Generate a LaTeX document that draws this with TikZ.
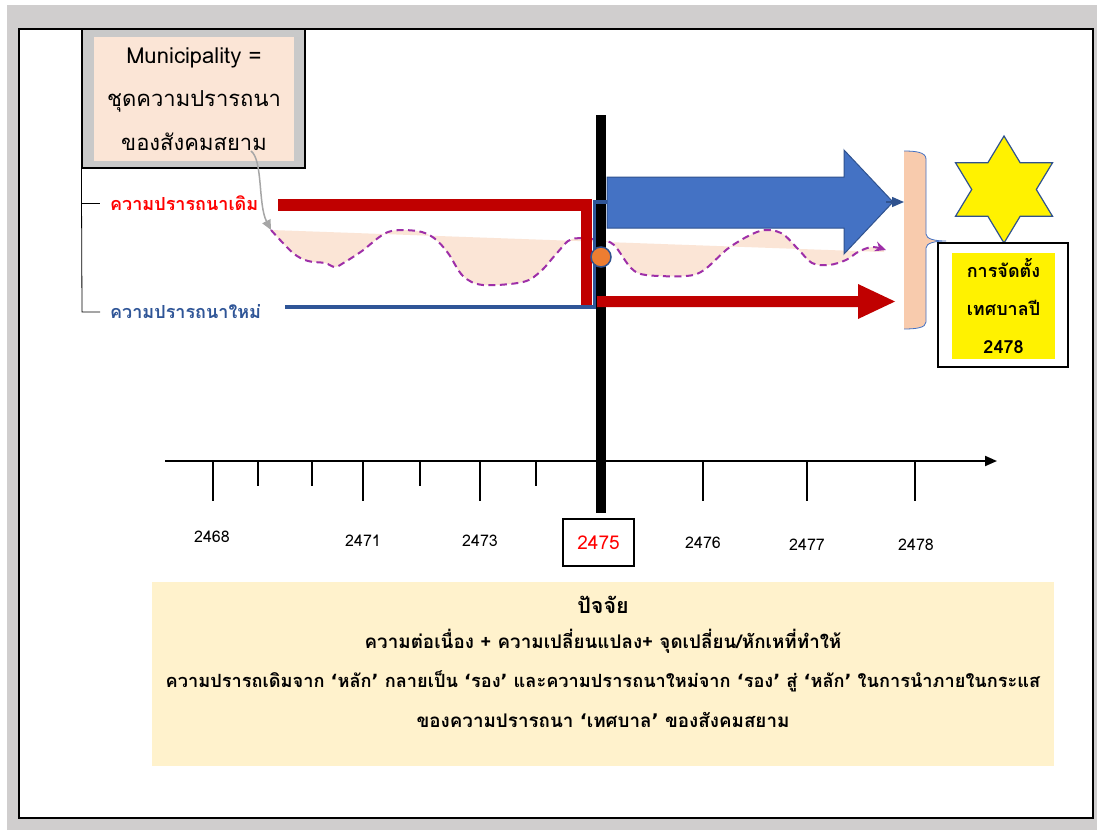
\documentclass[tikz,border=0pt]{standalone}
\usepackage{fontspec}
\setmainfont[Script=Thai]{Loma}
\newfontfamily\qf{DejaVu Sans}
\newcommand{\thlq}{{\qf\bfseries ‘}}
\newcommand{\thrq}{{\qf\bfseries ’}}
\usetikzlibrary{arrows.meta}
\definecolor{bgray}{HTML}{D0CECE}
\definecolor{boxgray}{HTML}{C9C9C9}
\definecolor{pinkf}{HTML}{FBE5D6}
\definecolor{darkred}{HTML}{C00000}
\definecolor{navy}{HTML}{2F5597}
\definecolor{arrowblue}{HTML}{4472C4}
\definecolor{edgeblue}{HTML}{2F528F}
\definecolor{orangec}{HTML}{ED7D31}
\definecolor{purp}{HTML}{9E2FA8}
\definecolor{bracketf}{HTML}{F8CBAD}
\definecolor{creamf}{HTML}{FFF2CC}
\definecolor{arrowgray}{HTML}{A6A6A6}
\tikzset{
  lbl/.style={inner sep=0pt, font=\bfseries\fontsize{18}{21}\selectfont},
  yearlbl/.style={inner sep=0pt, font=\fontsize{16}{19}\selectfont},
  longtick/.style={line width=1.5pt},
  facttxt/.style={inner sep=0pt, font=\bfseries\fontsize{18.8}{22}\selectfont},
}
\begin{document}
\begin{tikzpicture}[x=1pt,y=-1pt]
\useasboundingbox (0,0) rectangle (1097,830);
\fill[white] (0,0) rectangle (1097,830);
\fill[bgray] (7,5) rectangle (1097,830);
\draw[fill=white, line width=2pt] (19,29) rectangle (1093,818);

% municipality box
\node[draw=black, line width=1.2pt, fill=boxgray, minimum width=223pt, minimum height=139pt, inner sep=0pt] (muniout) at (193.5,98.5) {};
\node[fill=pinkf, minimum width=200pt, minimum height=124pt, inner sep=0pt, align=center, font=\fontsize{22}{43.5}\selectfont] (muni) at (194,99) {Municipality =\\ชุดความปรารถนา\\ของสังคมสยาม};

% left bracket with labels
\coordinate (tkold) at (100,203);
\coordinate (tknew) at (100,312);
\draw[line width=0.8pt] (muniout.south west) -- (82,312) -- (tknew);
\draw[line width=0.8pt] (82,203) -- (tkold);
\node[lbl, anchor=west, text=red] (oldlbl) at (110,203) {ความปรารถนาเดิม};
\node[lbl, anchor=west, text=navy] (newlbl) at (110,312) {ความปรารถนาใหม่};

% pink wave region and dashed curve
\fill[pinkf] plot[smooth, tension=0.55] coordinates {(271,230) (293,253) (308,261) (325,263) (335,267) (345,262) (362,251) (388,232) (417,231) (434,238) (448,253) (463,276) (483,285) (523,282) (541,271) (557,253) (572,239) (600,240) (614,245) (631,268) (646,275) (686,276) (704,270) (730,247) (760,231) (781,233) (798,249) (812,263) (829,265) (846,260) (858,252) (872,247) (884,250)} -- (884,252) -- (271,230) -- cycle;
\coordinate (wavestart) at (271,230);
\draw[purp, line width=2pt, dash pattern=on 7pt off 4.5pt, -{Stealth[length=11pt,width=10pt]}] plot[smooth, tension=0.55] coordinates {(271,230) (293,253) (308,261) (325,263) (335,267) (345,262) (362,251) (388,232) (417,231) (434,238) (448,253) (463,276) (483,285) (523,282) (541,271) (557,253) (572,239) (600,240) (614,245) (631,268) (646,275) (686,276) (704,270) (730,247) (760,231) (781,233) (798,249) (812,263) (829,265) (846,260) (858,252) (872,247) (886,250)};

% gray curved arrow from municipality box
\coordinate (munitail) at (251,151);
\draw[arrowgray, line width=1.5pt, -{Triangle[length=10pt,width=9pt]}] (munitail) .. controls (263,160) and (258,205) .. (wavestart);

% old (red) line
\coordinate (oldstart) at (278,205);
\coordinate (oldcorner) at (586.5,205);
\draw[darkred, line width=11.5pt] (oldstart) -- (oldcorner) -- (586.5,306);

% timeline black bar
\coordinate (bartop) at (601,115);
\coordinate (barbot) at (601,513);
\draw[line width=10pt] (bartop) -- (barbot);

% new (blue) line
\coordinate (newstart) at (285,307);
\draw[navy, line width=3.5pt] (newstart) -- (594.5,307) -- (594.5,202) -- (608,202);

% red arrow
\fill[darkred] (597,296) -- (858,296) -- (858,284) -- (895,301.5) -- (858,319) -- (858,307) -- (597,307) -- cycle;

% big blue arrow
\draw[fill=arrowblue, draw=edgeblue, line width=1pt] (607,177) -- (844,177) -- (844,150) -- (893,202) -- (844,254) -- (844,228) -- (607,228) -- cycle;

% orange circle
\node[circle, fill=orangec, draw=edgeblue, line width=1.5pt, minimum size=20pt, inner sep=0pt] (pivot) at (601,257) {};

% bracket
\fill[bracketf] (904,151) .. controls (915,151) and (926,152) .. (926,159) -- (926,234) .. controls (926,239) and (935,241) .. (946,241) .. controls (935,241) and (926,243) .. (926,248) -- (926,322) .. controls (926,328) and (915,329) .. (904,329) -- cycle;
\draw[arrowblue, line width=0.8pt] (904,151) .. controls (915,151) and (926,152) .. (926,159) -- (926,234) .. controls (926,239) and (935,241) .. (946,241) .. controls (935,241) and (926,243) .. (926,248) -- (926,322) .. controls (926,328) and (915,329) .. (904,329);
\coordinate (bracketin) at (904,202);
\coordinate (bluetip) at (886,202);
\draw[edgeblue, line width=1.5pt, -{Triangle[length=12pt,width=10pt]}] (bluetip) -- (bracketin);

% star
\coordinate (starc) at (1004,189.5);
\draw[fill=yellow, draw=edgeblue, line width=1.2pt] (starc) +(90:56 and 53.5) -- +(120:32.3 and 30.9) -- +(150:56 and 53.5) -- +(180:32.3 and 30.9) -- +(210:56 and 53.5) -- +(240:32.3 and 30.9) -- +(270:56 and 53.5) -- +(300:32.3 and 30.9) -- +(330:56 and 53.5) -- +(0:32.3 and 30.9) -- +(30:56 and 53.5) -- +(60:32.3 and 30.9) -- cycle;

% year box
\node[draw, line width=1.2pt, fill=white, minimum width=130pt, minimum height=124pt, inner sep=0pt] (yearbox) at (1003,305) {};
\node[fill=yellow, minimum width=103pt, minimum height=106pt, inner sep=0pt, align=center, font=\bfseries\fontsize{18}{38}\selectfont] (yeartext) at (1003.5,306) {การจัดตั้ง\\เทศบาลปี\\2478};

% timeline axis
\coordinate (axstart) at (165,461);
\coordinate (axend) at (997,461);
\draw[line width=2pt, -{Triangle[length=12pt,width=10pt]}] (axstart) -- (axend);
\foreach \x in {213,363,480,703,807,915} \draw[longtick] (\x,462) -- (\x,501);
\foreach \x in {258,312,420,536} \draw[line width=1.2pt] (\x,462) -- (\x,486);
\node[yearlbl] (y2468) at (212,537) {2468};
\node[yearlbl] (y2471) at (363,541) {2471};
\node[yearlbl] (y2473) at (480,541) {2473};
\node[yearlbl] (y2476) at (703,543) {2476};
\node[yearlbl] (y2477) at (807,545) {2477};
\node[yearlbl] (y2478) at (916,545) {2478};
\node[draw, line width=1.2pt, minimum width=71pt, minimum height=47pt, inner sep=0pt, text=red, font=\fontsize{19}{22}\selectfont] (y2475) at (598.5,542.5) {2475};

% factors box
\node[fill=creamf, minimum width=902pt, minimum height=184pt, inner sep=0pt] (factbox) at (603,674) {};
\node[facttxt, font=\bfseries\fontsize{21.5}{24}\selectfont] (f1) at (603,605) {ปัจจัย};
\node[facttxt] (f2) at (603,641) {ความต่อเนื่อง +  ความเปลี่ยนแปลง+ จุดเปลี่ยน/หักเหที่ทำให้};
\node[facttxt, font=\bfseries\fontsize{18.2}{22}\selectfont] (f3) at (603,681) {ความปรารถเดิมจาก \thlq หลัก\thrq\ กลายเป็น \thlq รอง\thrq\ และความปรารถนาใหม่จาก \thlq รอง\thrq\ สู่ \thlq หลัก\thrq\ ในการนำภายในกระแส};
\node[facttxt] (f4) at (603,720) {ของความปรารถนา \thlq เทศบาล\thrq\ ของสังคมสยาม};
\end{tikzpicture}
\end{document}
